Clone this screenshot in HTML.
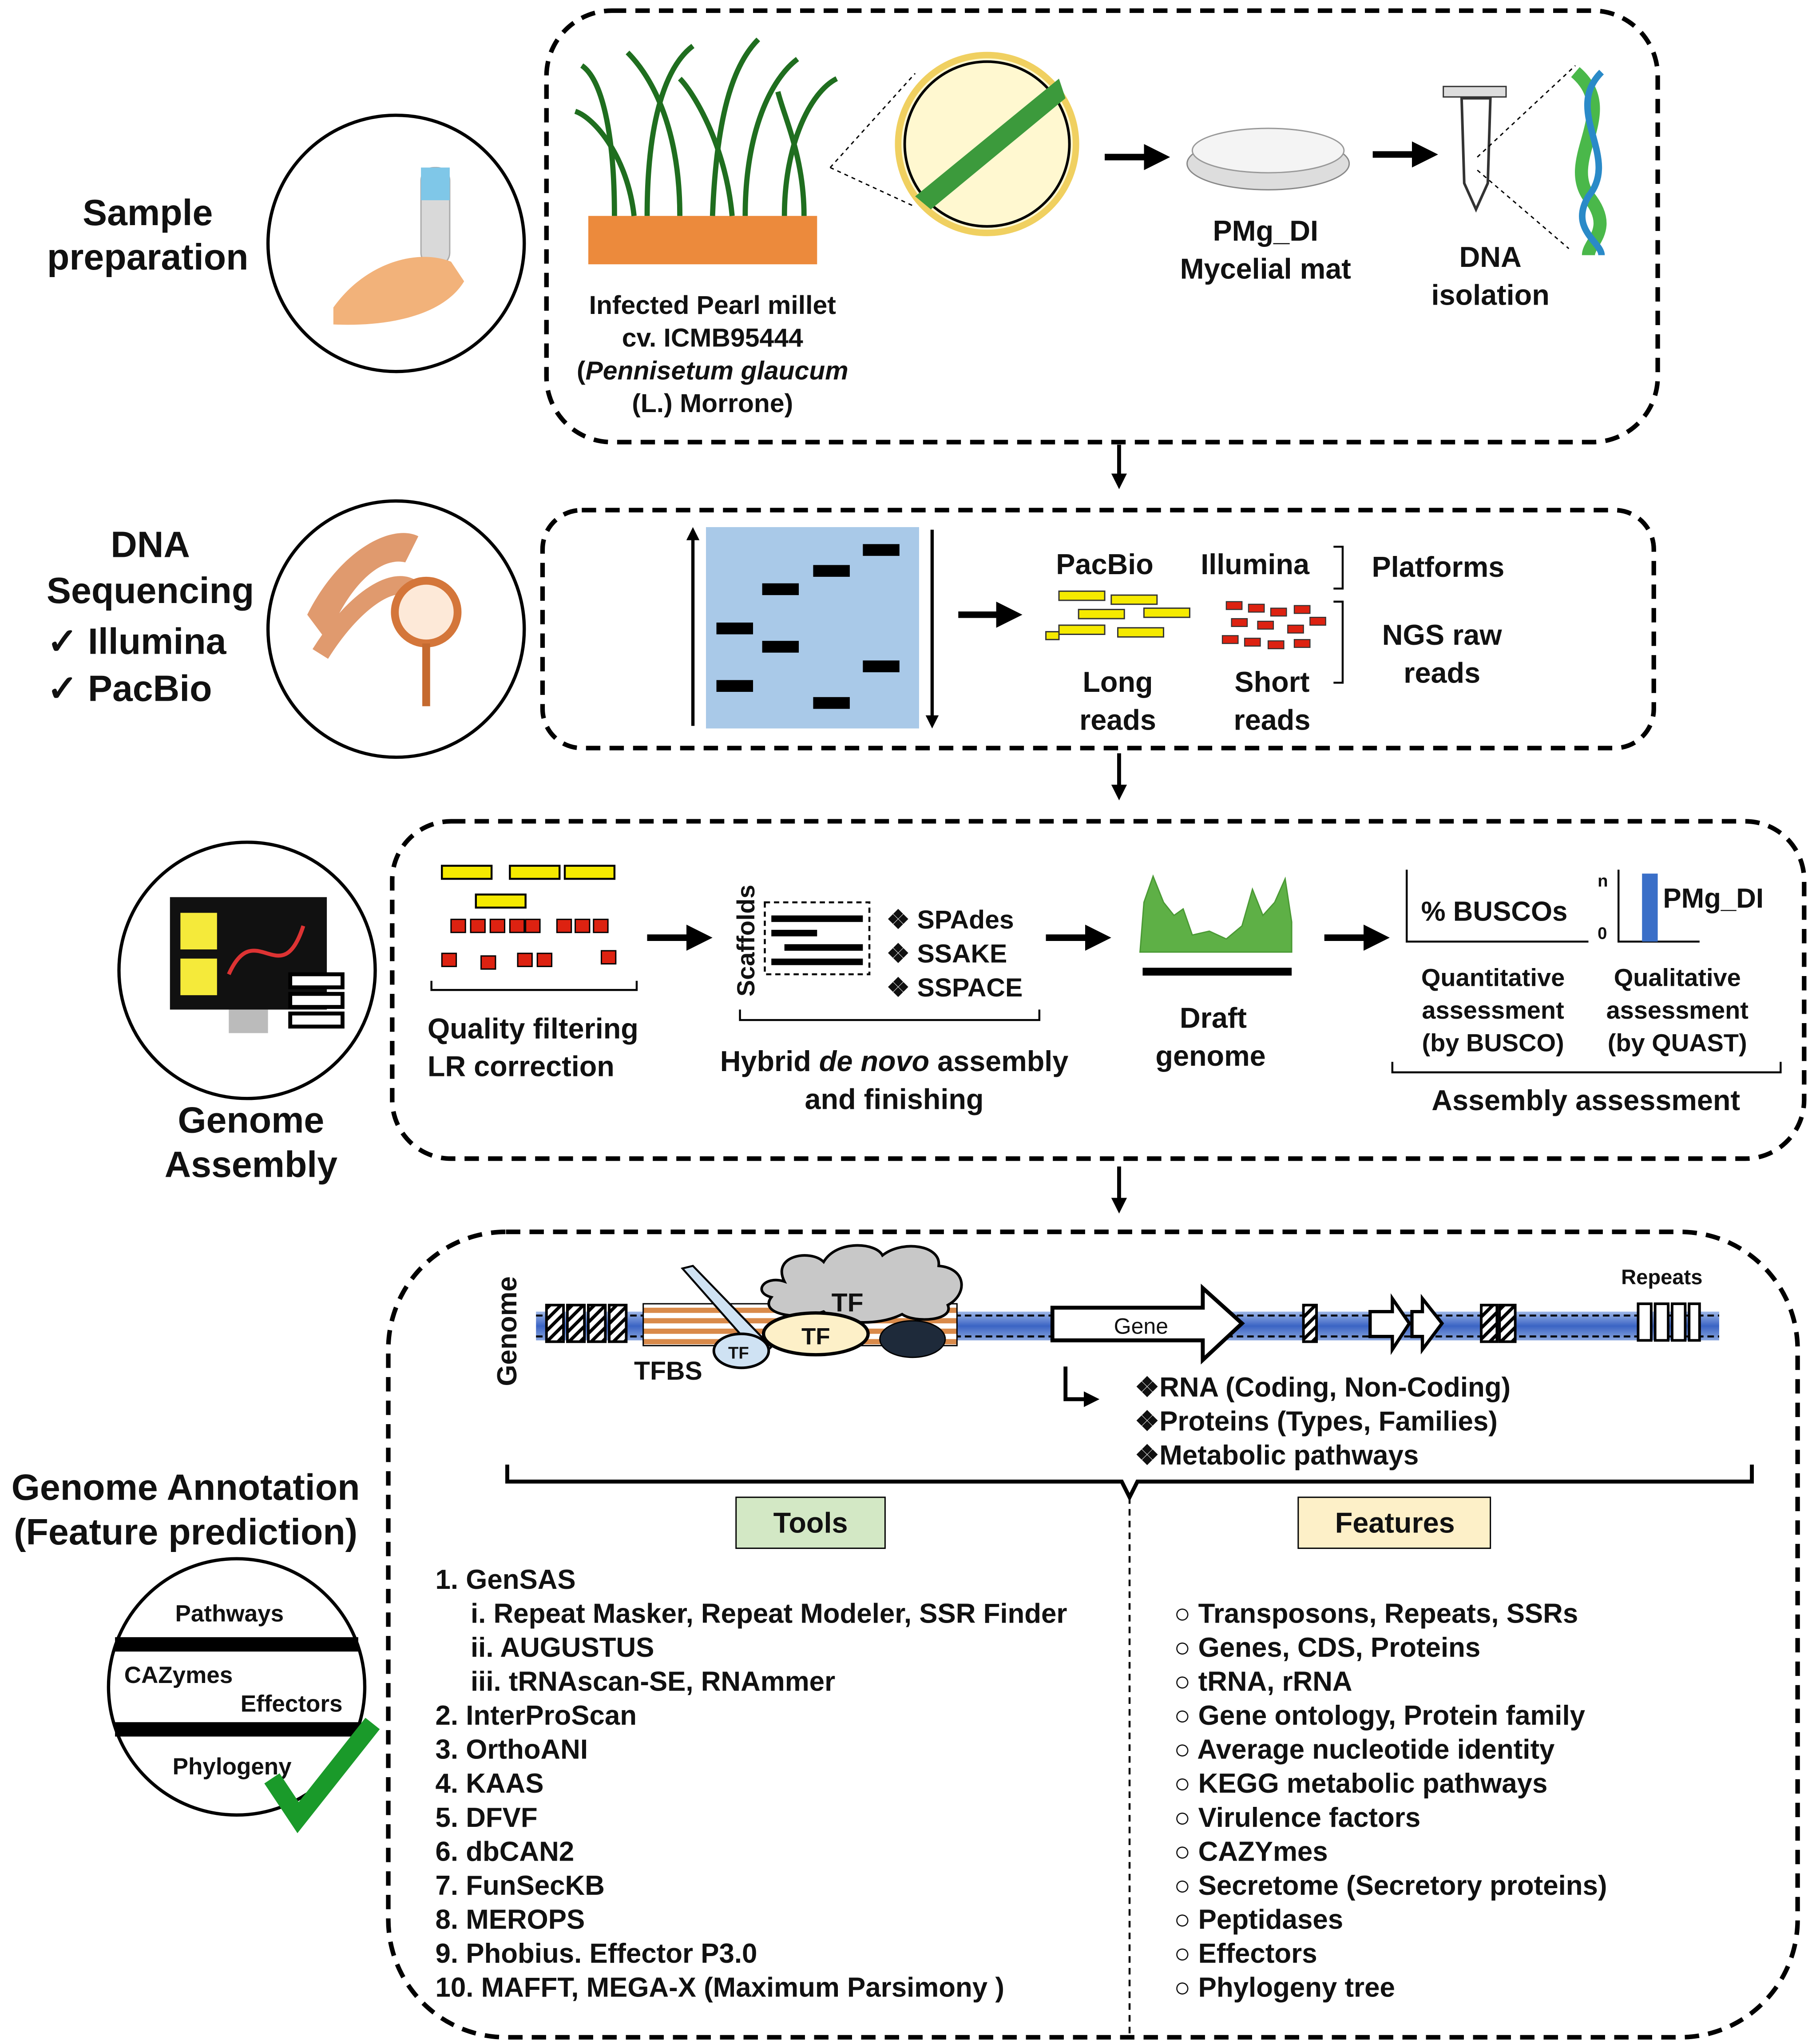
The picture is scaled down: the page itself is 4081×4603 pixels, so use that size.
<!DOCTYPE html>
<html><head><meta charset="utf-8"><style>
html,body{margin:0;padding:0;background:#fff}
svg{display:block}
text{font-family:"Liberation Sans",Arial,sans-serif;font-weight:bold;fill:#111}
</style></head><body>
<svg width="4081" height="4603" viewBox="0 0 1386 1563" xmlns="http://www.w3.org/2000/svg">
<defs>
<marker id="ah" markerWidth="4" markerHeight="4" refX="2" refY="2" orient="auto" markerUnits="strokeWidth"><path d="M0,0 L4,2 L0,4 z" fill="#000"/></marker>
<pattern id="hatch" width="6" height="6" patternUnits="userSpaceOnUse" patternTransform="rotate(45)"><rect width="6" height="6" fill="#fff"/><rect width="2.5" height="6" fill="#000"/></pattern>
<pattern id="stripe" width="8" height="8" patternUnits="userSpaceOnUse"><rect width="8" height="8" fill="#fff"/><rect width="8" height="4" fill="#d98a4a"/></pattern>
<linearGradient id="band" x1="0" y1="0" x2="0" y2="1"><stop offset="0" stop-color="#9fb8e8"/><stop offset="0.5" stop-color="#3b64c4"/><stop offset="1" stop-color="#8aa6de"/></linearGradient>
</defs>

<g fill="none" stroke="#000" stroke-width="3.5" stroke-dasharray="11,7">
<rect x="418" y="8" width="850" height="330" rx="50"/>
<rect x="415" y="390" width="850" height="182" rx="30"/>
<rect x="300" y="628" width="1080" height="258" rx="45"/>
<rect x="297" y="942" width="1078" height="616" rx="90"/>
</g>
<g stroke="#000" stroke-width="3" marker-end="url(#ah)">
<line x1="856" y1="340" x2="856" y2="368"/>
<line x1="856" y1="576" x2="856" y2="606"/>
<line x1="856" y1="892" x2="856" y2="922"/>
</g>

<g font-size="28" text-anchor="middle">
<text x="113" y="172">Sample</text><text x="113" y="206">preparation</text>
<text x="115" y="426">DNA</text><text x="115" y="461">Sequencing</text>
<text x="192" y="866">Genome</text><text x="192" y="900">Assembly</text>
<text x="142" y="1147">Genome Annotation</text><text x="142" y="1181">(Feature prediction)</text>
</g>
<g font-size="28"><text x="36" y="500">✓ Illumina</text><text x="36" y="536">✓ PacBio</text></g>

<g fill="#fff" stroke="#000" stroke-width="2.5">
<circle cx="303" cy="186" r="98"/><circle cx="303" cy="481" r="98"/>
<circle cx="189" cy="742" r="98"/><circle cx="181" cy="1290" r="98"/>
</g>
<rect x="322" y="128" width="22" height="75" rx="10" fill="#d9d9d9" stroke="#aaa"/>
<rect x="322" y="128" width="22" height="25" fill="#7fc7e8"/>
<path d="M255,235 C280,200 320,190 345,200 L355,215 C340,240 300,250 255,248 Z" fill="#f2b27a"/>
<path d="M235,470 C260,420 300,400 320,410 L310,430 C290,425 265,450 250,490 Z" fill="#e09a6e"/>
<path d="M245,500 C270,460 300,440 315,450" fill="none" stroke="#e09a6e" stroke-width="14"/>
<circle cx="326" cy="468" r="24" fill="#fde9d8" stroke="#d4763a" stroke-width="6"/>
<line x1="326" y1="492" x2="326" y2="540" stroke="#c56a2f" stroke-width="6"/>
<rect x="130" y="686" width="120" height="86" fill="#111"/>
<rect x="138" y="698" width="28" height="28" fill="#f5ea3a"/><rect x="138" y="733" width="28" height="28" fill="#f5ea3a"/>
<path d="M175,745 C195,700 215,760 232,708" fill="none" stroke="#d33" stroke-width="3"/>
<rect x="175" y="772" width="30" height="18" fill="#bbb"/>
<rect x="222" y="745" width="40" height="10" fill="#fff" stroke="#000" stroke-width="3"/>
<rect x="222" y="760" width="40" height="10" fill="#fff" stroke="#000" stroke-width="3"/>
<rect x="222" y="775" width="40" height="10" fill="#fff" stroke="#000" stroke-width="3"/>
<rect x="88" y="1252" width="186" height="11" fill="#000"/>
<rect x="88" y="1317" width="186" height="11" fill="#000"/>
<g font-size="18"><text x="134" y="1240">Pathways</text><text x="95" y="1287">CAZymes</text><text x="184" y="1309">Effectors</text><text x="132" y="1357">Phylogeny</text></g>
<path d="M208,1360 L228,1390 L285,1318" fill="none" stroke="#1a9a2a" stroke-width="14"/>

<rect x="450" y="165" width="175" height="37" fill="#ec8a3c"/>
<g stroke="#1f6e1f" stroke-width="4" fill="none">
<path d="M470,165 C470,100 460,60 445,50"/><path d="M495,165 C495,90 510,50 530,35"/>
<path d="M520,165 C520,100 500,60 480,40"/><path d="M545,165 C548,90 560,50 580,30"/>
<path d="M570,165 C570,100 590,60 610,45"/><path d="M600,165 C600,110 620,70 640,60"/>
<path d="M485,165 C480,120 455,90 440,85"/><path d="M560,165 C555,110 530,70 520,60"/>
<path d="M615,165 C615,120 600,90 595,70"/>
</g>
<circle cx="755" cy="110" r="68" fill="#fff8d0" stroke="#f0d060" stroke-width="5"/>
<circle cx="755" cy="110" r="63" fill="none" stroke="#000" stroke-width="2"/>
<path d="M700,150 L810,60 L815,75 L712,160 Z" fill="#3c9a3c"/>
<line x1="635" y1="128" x2="700" y2="56" stroke="#000" stroke-dasharray="3,3"/>
<line x1="635" y1="128" x2="700" y2="158" stroke="#000" stroke-dasharray="3,3"/>
<g stroke="#000" stroke-width="5" marker-end="url(#ah)"><line x1="845" y1="120" x2="885" y2="120"/><line x1="1050" y1="118" x2="1090" y2="118"/></g>
<ellipse cx="970" cy="125" rx="62" ry="20" fill="#ddd" stroke="#888"/>
<ellipse cx="970" cy="115" rx="58" ry="17" fill="#f4f4f4" stroke="#999"/>
<path d="M1118,75 L1140,75 L1138,140 L1129,160 L1120,140 Z" fill="#fff" stroke="#333" stroke-width="2"/>
<rect x="1104" y="66" width="48" height="8" fill="#ddd" stroke="#333"/>
<line x1="1130" y1="120" x2="1205" y2="50" stroke="#000" stroke-dasharray="3,3"/>
<line x1="1130" y1="130" x2="1200" y2="190" stroke="#000" stroke-dasharray="3,3"/>
<path d="M1205,55 C1240,85 1195,120 1215,150 C1235,175 1215,185 1215,195" fill="none" stroke="#4ab84a" stroke-width="10"/>
<path d="M1225,55 C1195,85 1240,120 1215,150 C1200,175 1225,185 1225,195" fill="none" stroke="#2a8ac8" stroke-width="5"/>
<g font-size="20" text-anchor="middle">
<text x="545" y="240">Infected Pearl millet</text><text x="545" y="265">cv. ICMB95444</text>
<text x="545" y="290">(<tspan font-style="italic">Pennisetum glaucum</tspan></text><text x="545" y="315">(L.) Morrone)</text>
</g>
<g font-size="22" text-anchor="middle">
<text x="968" y="184">PMg_DI</text><text x="968" y="213">Mycelial mat</text>
<text x="1140" y="204">DNA</text><text x="1140" y="233">isolation</text>
</g>

<rect x="540" y="403" width="163" height="154" fill="#a9c9e8"/>
<g fill="#000">
<rect x="660" y="416" width="28" height="9"/><rect x="622" y="432" width="28" height="9"/><rect x="583" y="446" width="28" height="9"/>
<rect x="548" y="476" width="28" height="9"/><rect x="583" y="490" width="28" height="9"/><rect x="660" y="505" width="28" height="9"/>
<rect x="548" y="520" width="28" height="9"/><rect x="622" y="533" width="28" height="9"/>
</g>
<g stroke="#000" stroke-width="2.5" marker-end="url(#ah)"><line x1="530" y1="555" x2="530" y2="408"/><line x1="713" y1="405" x2="713" y2="552"/></g>
<line x1="733" y1="470" x2="772" y2="470" stroke="#000" stroke-width="5" marker-end="url(#ah)"/>
<g fill="#f5ea00" stroke="#333" stroke-width="1">
<rect x="810" y="452" width="35" height="7"/><rect x="850" y="455" width="35" height="7"/>
<rect x="825" y="466" width="35" height="7"/><rect x="875" y="465" width="35" height="7"/><rect x="810" y="478" width="35" height="7"/>
<rect x="855" y="480" width="35" height="7"/><rect x="800" y="483" width="10" height="6"/>
</g>
<g fill="#d21" stroke="#333" stroke-width="0.8">
<rect x="938" y="460" width="12" height="6"/><rect x="955" y="462" width="12" height="6"/><rect x="972" y="465" width="12" height="6"/><rect x="990" y="463" width="12" height="6"/>
<rect x="942" y="473" width="12" height="6"/><rect x="962" y="475" width="12" height="6"/><rect x="985" y="478" width="12" height="6"/><rect x="1002" y="472" width="12" height="6"/>
<rect x="935" y="486" width="12" height="6"/><rect x="952" y="488" width="12" height="6"/><rect x="970" y="490" width="12" height="6"/><rect x="990" y="489" width="12" height="6"/>
</g>
<path d="M1020,418 L1027,418 L1027,450 L1020,450 M1020,460 L1027,460 L1027,522 L1020,522" fill="none" stroke="#000" stroke-width="1.5"/>
<g font-size="22" text-anchor="middle">
<text x="845" y="439">PacBio</text><text x="960" y="439">Illumina</text><text x="1100" y="441">Platforms</text>
<text x="855" y="529">Long</text><text x="855" y="558">reads</text>
<text x="973" y="529">Short</text><text x="973" y="558">reads</text>
<text x="1103" y="493">NGS raw</text><text x="1103" y="522">reads</text>
</g>

<g fill="#f5ea00" stroke="#000" stroke-width="1.5">
<rect x="338" y="662" width="38" height="10"/><rect x="390" y="662" width="38" height="10"/><rect x="432" y="662" width="38" height="10"/><rect x="364" y="684" width="38" height="10"/>
</g>
<g fill="#d21" stroke="#000" stroke-width="1">
<rect x="345" y="703" width="11" height="10"/><rect x="360" y="703" width="11" height="10"/><rect x="375" y="703" width="11" height="10"/><rect x="390" y="703" width="11" height="10"/><rect x="402" y="703" width="11" height="10"/>
<rect x="426" y="703" width="11" height="10"/><rect x="440" y="703" width="11" height="10"/><rect x="454" y="703" width="11" height="10"/>
<rect x="338" y="729" width="11" height="10"/><rect x="368" y="731" width="11" height="10"/><rect x="396" y="729" width="11" height="10"/><rect x="411" y="729" width="11" height="10"/><rect x="460" y="727" width="11" height="10"/>
</g>
<path d="M330,750 L330,757 L487,757 L487,750" fill="none" stroke="#000" stroke-width="1.5"/>
<g stroke="#000" stroke-width="5" marker-end="url(#ah)"><line x1="495" y1="717" x2="535" y2="717"/><line x1="800" y1="717" x2="840" y2="717"/><line x1="1013" y1="717" x2="1053" y2="717"/></g>
<text x="577" y="762" font-size="19" transform="rotate(-90 577 762)">Scaffolds</text>
<rect x="585" y="690" width="80" height="55" fill="none" stroke="#000" stroke-width="1.5" stroke-dasharray="4,3"/>
<g fill="#000"><rect x="590" y="700" width="70" height="5"/><rect x="590" y="711" width="35" height="5"/><rect x="600" y="722" width="60" height="5"/><rect x="590" y="733" width="70" height="5"/></g>
<g font-size="20"><text x="678" y="710">❖ SPAdes</text><text x="678" y="736">❖ SSAKE</text><text x="678" y="762">❖ SSPACE</text></g>
<path d="M566,772 L566,780 L795,780 L795,772" fill="none" stroke="#000" stroke-width="1.5"/>
<path d="M872,728 L875,690 L882,670 L890,690 L898,700 L905,695 L912,715 L925,712 L938,718 L950,708 L958,680 L966,700 L975,690 L983,672 L988,705 L988,728 Z" fill="#5eb046" stroke="#4a9a34"/>
<rect x="874" y="740" width="114" height="6" fill="#000"/>
<path d="M1076,665 L1076,720 L1215,720" fill="none" stroke="#000" stroke-width="1.5"/>
<path d="M1238,665 L1238,720 L1300,720" fill="none" stroke="#000" stroke-width="1.5"/>
<rect x="1256" y="668" width="12" height="52" fill="#3a6fc8"/>
<g font-size="13"><text x="1222" y="678">n</text><text x="1222" y="718">0</text></g>
<g font-size="22" text-anchor="middle">
<text x="928" y="786">Draft</text><text x="926" y="815">genome</text>
<text x="684" y="819">Hybrid <tspan font-style="italic">de novo</tspan> assembly</text><text x="684" y="848">and finishing</text>
<text x="1213" y="849">Assembly assessment</text>
</g>
<text x="327" y="794" font-size="22">Quality filtering</text>
<text x="327" y="823" font-size="22">LR correction</text>
<g font-size="21"><text x="1087" y="704">% BUSCOs</text><text x="1272" y="694">PMg_DI</text></g>
<g font-size="19" text-anchor="middle">
<text x="1142" y="754">Quantitative</text><text x="1142" y="779">assessment</text><text x="1142" y="804">(by BUSCO)</text>
<text x="1283" y="754">Qualitative</text><text x="1283" y="779">assessment</text><text x="1283" y="804">(by QUAST)</text>
</g>
<path d="M1065,812 L1065,820 L1362,820 L1362,812" fill="none" stroke="#000" stroke-width="1.5"/>

<text x="395" y="1060" font-size="21" transform="rotate(-90 395 1060)">Genome</text>
<rect x="410" y="1003" width="905" height="22" fill="url(#band)"/>
<line x1="410" y1="1006" x2="1315" y2="1006" stroke="#000" stroke-width="1.5" stroke-dasharray="5,3"/>
<line x1="410" y1="1022" x2="1315" y2="1022" stroke="#000" stroke-width="1.5" stroke-dasharray="5,3"/>
<g fill="url(#hatch)" stroke="#000" stroke-width="2">
<rect x="418" y="998" width="13" height="28"/><rect x="434" y="998" width="13" height="28"/><rect x="450" y="998" width="13" height="28"/><rect x="466" y="998" width="13" height="28"/>
<rect x="997" y="998" width="10" height="28"/><rect x="1133" y="998" width="12" height="28"/><rect x="1147" y="998" width="12" height="28"/>
</g>
<g fill="#fff" stroke="#000" stroke-width="2">
<rect x="1253" y="997" width="10" height="28"/><rect x="1266" y="997" width="10" height="28"/><rect x="1279" y="997" width="10" height="28"/><rect x="1292" y="997" width="8" height="28"/>
</g>
<rect x="492" y="997" width="240" height="32" fill="url(#stripe)" stroke="#000" stroke-width="1"/>
<path d="M600,980 C590,960 620,955 630,965 C640,948 670,950 675,960 C690,948 720,952 718,968 C740,970 740,990 725,998 C730,1010 700,1012 690,1005 C670,1015 640,1012 630,1003 C610,1010 580,1005 590,992 C575,988 585,975 600,980 Z" fill="#c8c8c8" stroke="#000" stroke-width="2"/>
<text x="636" y="1003" font-size="20">TF</text>
<path d="M522,970 L530,968 L590,1030 L582,1038 Z" fill="#cfe2f3" stroke="#000" stroke-width="1.5"/>
<ellipse cx="624" cy="1020" rx="40" ry="16" fill="#fdf0c8" stroke="#000" stroke-width="2.5"/>
<text x="613" y="1028" font-size="18">TF</text>
<ellipse cx="567" cy="1033" rx="21" ry="13" fill="#cfe2f3" stroke="#000" stroke-width="2"/>
<text x="557" y="1039" font-size="13">TF</text>
<ellipse cx="698" cy="1024" rx="25" ry="14" fill="#1e2a3a" stroke="#000"/>
<path d="M805,1000 L920,1000 L920,985 L950,1012 L920,1040 L920,1025 L805,1025 Z" fill="#fff" stroke="#000" stroke-width="3"/>
<text x="852" y="1020" font-size="17" style="font-weight:normal">Gene</text>
<path d="M1048,1003 L1065,1003 L1065,993 L1078,1012 L1065,1032 L1065,1022 L1048,1022 Z" fill="#fff" stroke="#000" stroke-width="2.5"/>
<path d="M1080,1003 L1088,1003 L1088,993 L1103,1012 L1088,1032 L1088,1022 L1080,1022 Z" fill="#fff" stroke="#000" stroke-width="2.5"/>
<text x="1240" y="982" font-size="16">Repeats</text>
<text x="485" y="1055" font-size="20">TFBS</text>
<path d="M815,1045 L815,1070 L835,1070" fill="none" stroke="#000" stroke-width="3" marker-end="url(#ah)"/>
<g font-size="21"><text x="868" y="1068">❖RNA (Coding, Non-Coding)</text><text x="868" y="1094">❖Proteins (Types, Families)</text><text x="868" y="1120">❖Metabolic pathways</text></g>
<path d="M388,1120 L388,1133 L858,1133 L864,1145 L870,1133 L1340,1133 L1340,1120" fill="none" stroke="#000" stroke-width="3"/>
<line x1="864" y1="1145" x2="864" y2="1555" stroke="#000" stroke-width="1.5" stroke-dasharray="5,4"/>
<rect x="563" y="1145" width="114" height="39" fill="#d3e8c5" stroke="#000" stroke-width="1"/>
<rect x="993" y="1145" width="147" height="39" fill="#fdf0c8" stroke="#000" stroke-width="1"/>
<g font-size="22" text-anchor="middle"><text x="620" y="1172">Tools</text><text x="1067" y="1172">Features</text></g>
<g font-size="21">
<text x="333" y="1215">1. GenSAS</text>
<text x="360" y="1241">i.   Repeat Masker, Repeat Modeler, SSR Finder</text>
<text x="360" y="1267">ii.  AUGUSTUS</text>
<text x="360" y="1293">iii. tRNAscan-SE, RNAmmer</text>
<text x="333" y="1319">2. InterProScan</text>
<text x="333" y="1345">3. OrthoANI</text>
<text x="333" y="1371">4. KAAS</text>
<text x="333" y="1397">5. DFVF</text>
<text x="333" y="1423">6. dbCAN2</text>
<text x="333" y="1449">7. FunSecKB</text>
<text x="333" y="1475">8. MEROPS</text>
<text x="333" y="1501">9. Phobius. Effector P3.0</text>
<text x="333" y="1527">10. MAFFT, MEGA-X (Maximum Parsimony )</text>
<text x="898" y="1241">○ Transposons, Repeats, SSRs</text>
<text x="898" y="1267">○ Genes, CDS, Proteins</text>
<text x="898" y="1293">○ tRNA, rRNA</text>
<text x="898" y="1319">○ Gene ontology, Protein family</text>
<text x="898" y="1345">○ Average nucleotide identity</text>
<text x="898" y="1371">○ KEGG metabolic pathways</text>
<text x="898" y="1397">○ Virulence factors</text>
<text x="898" y="1423">○ CAZYmes</text>
<text x="898" y="1449">○ Secretome (Secretory proteins)</text>
<text x="898" y="1475">○ Peptidases</text>
<text x="898" y="1501">○ Effectors</text>
<text x="898" y="1527">○ Phylogeny tree</text>
</g>
</svg>
</body></html>
